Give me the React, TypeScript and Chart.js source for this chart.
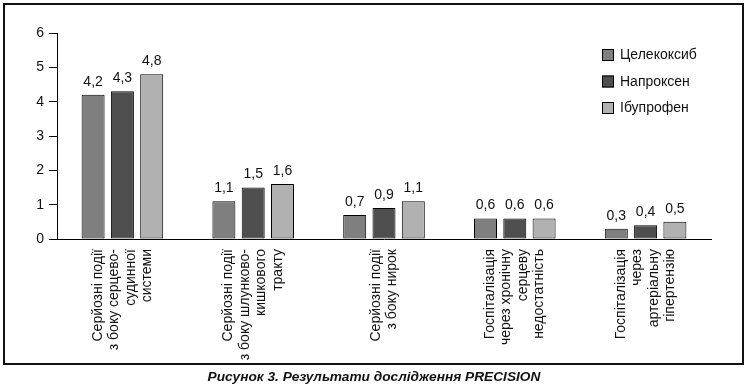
import React, { useEffect, useRef } from "react";
import { Chart, registerables } from "chart.js";

Chart.register(...registerables);

const categories: string[][] = [
  ["Серйозні події", "з боку серцево-", "судинної", "системи"],
  ["Серйозні події", "з боку шлунково-", "кишкового", "тракту"],
  ["Серйозні події", "з боку нирок"],
  ["Госпіталізація", "через хронічну", "серцеву", "недостатність"],
  ["Госпіталізація", "через", "артеріальну", "гіпертензію"],
];
const seriesNames = ["Целекоксиб", "Напроксен", "Ібупрофен"];
const celecoxib = [4.2, 1.1, 0.7, 0.6, 0.3];
const naproxen = [4.3, 1.5, 0.9, 0.6, 0.4];
const ibuprofen = [4.8, 1.6, 1.1, 0.6, 0.5];
const seriesColors = ["#7f7f7f", "#4f4f4f", "#b1b1b1"];
const yMin = 0;
const yMax = 6;
const yStep = 1;
const caption = "Рисунок 3. Результати дослідження PRECISION";

const FONT = "Liberation Sans, Arial, sans-serif";
const TEXT = "#111";
const FS = 14;

const valueLabels = {
  id: "valueLabels",
  afterDatasetsDraw(chart: any) {
    const ctx = chart.ctx;
    ctx.save();
    ctx.font = `${FS}px ${FONT}`;
    ctx.fillStyle = TEXT;
    ctx.textAlign = "center";
    ctx.textBaseline = "bottom";
    chart.data.datasets.forEach((ds: any, di: number) => {
      const meta = chart.getDatasetMeta(di);
      meta.data.forEach((bar: any, i: number) => {
        const v = ds.data[i];
        ctx.fillText(String(v.toFixed(1)).replace(".", ","), bar.x, bar.y - 6);
      });
    });
    ctx.restore();
  },
};

const xLabels = {
  id: "xLabels",
  afterDraw(chart: any) {
    const ctx = chart.ctx;
    const xs = chart.scales.x;
    const top = chart.chartArea.bottom + 10;
    const lh = 16.5;
    ctx.save();
    ctx.font = `${FS}px ${FONT}`;
    ctx.fillStyle = TEXT;
    ctx.textAlign = "right";
    ctx.textBaseline = "middle";
    categories.forEach((lines, i) => {
      const px = xs.getPixelForTick(i);
      const n = lines.length;
      lines.forEach((line, j) => {
        const x = px + (j - (n - 1) / 2) * lh;
        ctx.save();
        ctx.translate(x, top);
        ctx.rotate(-Math.PI / 2);
        ctx.fillText(line, 0, 0);
        ctx.restore();
      });
    });
    ctx.restore();
  },
};

const legendBox = {
  id: "legendBox",
  afterDraw(chart: any) {
    const ctx = chart.ctx;
    const x0 = 602;
    const y0 = 55;
    const gap = 26.5;
    ctx.save();
    ctx.font = `${FS}px ${FONT}`;
    ctx.textAlign = "left";
    ctx.textBaseline = "middle";
    seriesNames.forEach((name, i) => {
      const cy = y0 + i * gap;
      ctx.fillStyle = seriesColors[i];
      ctx.fillRect(x0, cy - 6, 12, 12);
      ctx.strokeStyle = "#000";
      ctx.lineWidth = 1;
      ctx.strokeRect(x0 + 0.5, cy - 5.5, 11, 11);
      ctx.fillStyle = TEXT;
      ctx.fillText(name, x0 + 18, cy + 0.5);
    });
    ctx.restore();
  },
};

export default function App() {
  const ref = useRef<HTMLCanvasElement | null>(null);

  useEffect(() => {
    document.body.style.margin = "0";
    const canvas = ref.current;
    if (!canvas) return;
    const series = [celecoxib, naproxen, ibuprofen];
    const chart = new Chart(canvas, {
      type: "bar",
      data: {
        labels: categories.map((c) => c.join(" ")),
        datasets: series.map((d, i) => ({
          label: seriesNames[i],
          data: d,
          backgroundColor: seriesColors[i],
          borderColor: "#000",
          borderWidth: 1,
          borderSkipped: false,
          categoryPercentage: 0.672,
          barPercentage: 0.785,
        })),
      },
      options: {
        responsive: false,
        animation: false,
        devicePixelRatio: 1,
        layout: { padding: { top: 33, right: 37, left: 0, bottom: 0 } },
        plugins: {
          legend: { display: false },
          tooltip: { enabled: false },
          title: { display: false },
        },
        scales: {
          x: {
            ticks: { display: false },
            grid: { display: false },
            border: { display: true, color: "#000", width: 1 },
            afterFit: (s: any) => {
              s.height = 148;
            },
          },
          y: {
            min: yMin,
            max: yMax,
            ticks: {
              stepSize: yStep,
              padding: 5,
              color: TEXT,
              font: { size: FS, family: FONT },
            },
            grid: {
              drawOnChartArea: false,
              drawTicks: true,
              tickLength: 8,
              color: "#000",
            },
            border: { display: true, color: "#000", width: 1 },
            afterFit: (s: any) => {
              s.width = 57;
            },
          },
        },
      },
      plugins: [valueLabels, xLabels, legendBox],
    });
    return () => chart.destroy();
  }, []);

  return (
    <div style={{ position: "relative", width: 748, height: 387, background: "#fff", overflow: "hidden" }}>
      <div
        style={{
          position: "absolute",
          left: 3,
          top: 3,
          width: 741,
          height: 362,
          border: "2px solid #111",
          boxSizing: "border-box",
        }}
      />
      <canvas
        ref={ref}
        width={748}
        height={387}
        style={{ position: "absolute", left: 0, top: 0, width: 748, height: 387 }}
      />
      <div
        style={{
          position: "absolute",
          left: 0,
          width: 748,
          top: 369,
          textAlign: "center",
          fontFamily: FONT,
          fontWeight: "bold",
          fontStyle: "italic",
          fontSize: 13.7,
          lineHeight: "15px",
          color: TEXT,
        }}
      >
        {caption}
      </div>
    </div>
  );
}
